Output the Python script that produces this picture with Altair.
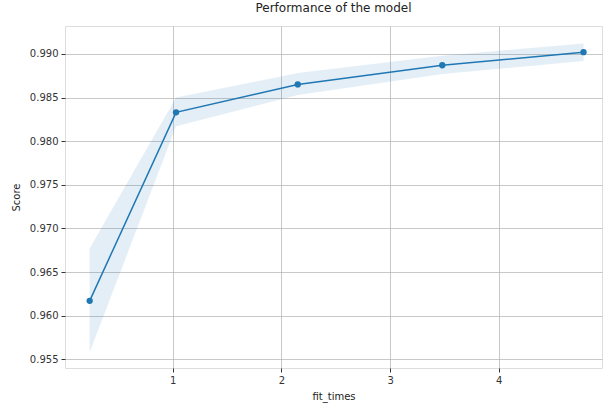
import altair as alt
import pandas as pd

fit_times = [0.235, 1.03, 2.15, 3.48, 4.78]
score_mean = [0.9617, 0.9833, 0.9865, 0.9887, 0.9902]
score_low = [0.9558, 0.9817, 0.9853, 0.9877, 0.9892]
score_high = [0.9677, 0.9850, 0.9878, 0.9898, 0.9912]
x_ticks = [1, 2, 3, 4]
y_ticks = [0.955, 0.960, 0.965, 0.970, 0.975, 0.980, 0.985, 0.990]

df = pd.DataFrame({"fit_times": fit_times, "score": score_mean,
                   "low": score_low, "high": score_high})

FONT = "DejaVu Sans"
blue = "#1f77b4"

xs = alt.Scale(domain=[0.008, 4.95], nice=False, zero=False)
ys = alt.Scale(domain=[0.9540, 0.9932], nice=False, zero=False)

xax = alt.Axis(values=x_ticks, format="d", title="fit_times", grid=True,
               gridColor="#b0b0b0", gridOpacity=0.7, domain=False,
               tickColor="#333", tickSize=4, labelColor="#333", labelFont=FONT,
               labelFontSize=10, titleFont=FONT, titleFontSize=10,
               titleFontWeight="normal", titleColor="#222", labelPadding=3,
               titlePadding=6)
yax = alt.Axis(values=y_ticks, format=".3f", title="Score", grid=True,
               gridColor="#b0b0b0", gridOpacity=0.7, domain=False,
               tickColor="#333", tickSize=4, labelColor="#333", labelFont=FONT,
               labelFontSize=10, titleFont=FONT, titleFontSize=10,
               titleFontWeight="normal", titleColor="#222", labelPadding=3,
               titlePadding=8)

band = alt.Chart(df).mark_area(color=blue, opacity=0.12).encode(
    x=alt.X("fit_times:Q", scale=xs, axis=xax),
    y=alt.Y("low:Q", scale=ys, axis=yax),
    y2="high:Q",
)
line = alt.Chart(df).mark_line(color=blue, strokeWidth=1.5).encode(
    x=alt.X("fit_times:Q", scale=xs),
    y=alt.Y("score:Q", scale=ys),
)
pts = alt.Chart(df).mark_point(color=blue, filled=True, size=40, opacity=1).encode(
    x=alt.X("fit_times:Q", scale=xs),
    y=alt.Y("score:Q", scale=ys),
)

chart = (band + line + pts).properties(
    width=537, height=342,
    title=alt.TitleParams("Performance of the model", font=FONT, fontSize=12,
                          fontWeight="normal", color="#222", offset=11),
    autosize=alt.AutoSizeParams(type="none"),
    padding={"left": 65, "top": 26, "right": 1, "bottom": 35},
).configure_view(stroke="#333", strokeWidth=1).configure(background="white")

chart.save("out.html", embed_options={"renderer": "svg", "actions": False})
